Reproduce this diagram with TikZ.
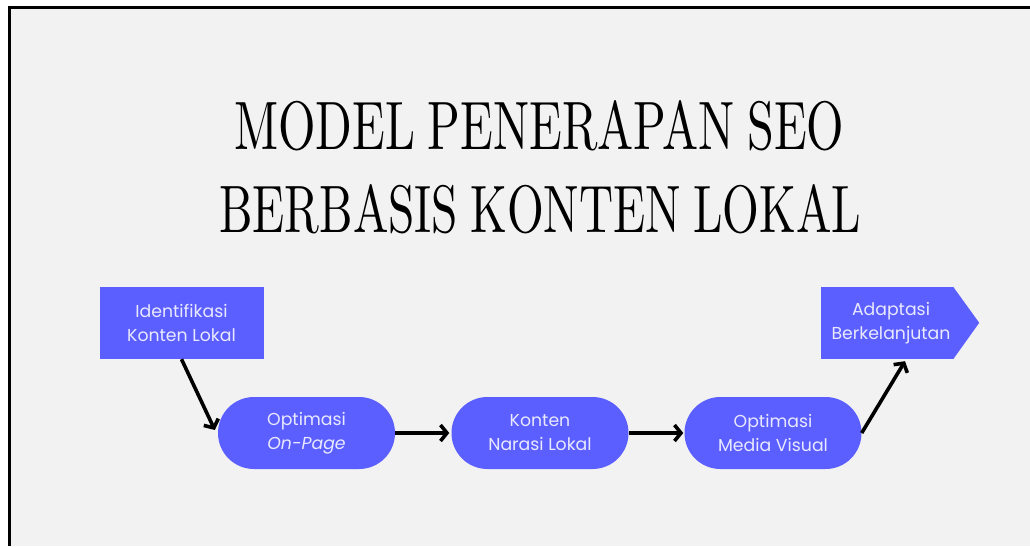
\documentclass[tikz,border=0pt]{standalone}
\usepackage{fontspec}
\setsansfont{Poppins}
\usetikzlibrary{arrows.meta,calc}
\definecolor{boxblue}{RGB}{92,95,255}
\definecolor{bggray}{RGB}{242,242,242}
\definecolor{boxtext}{RGB}{232,232,255}
\newcommand{\titlefmt}{\fontsize{10}{10}\selectfont\spaceskip=0.26em plus 0.1em}
\tikzset{
  flowbox/.style={fill=boxblue, text=boxtext, align=center, inner sep=0pt,
    font=\sffamily\fontsize{17.3}{24}\selectfont},
  rectbox/.style={flowbox, minimum width=164pt, minimum height=72pt},
  pillbox/.style={flowbox, minimum width=177pt, minimum height=72pt, rounded corners=35.9pt},
  flowarrow/.style={line width=3.6pt, -{Straight Barb[length=6.5pt,width=16pt,line width=3.6pt]}},
  titletext/.style={anchor=base west, inner sep=0pt, text=black}
}
\begin{document}
\begin{tikzpicture}[x=1pt,y=-1pt]
\useasboundingbox (0,0) rectangle (1030,546);
\fill[white] (0,0) rectangle (1030,546);
\fill[bggray] (9,7.5) rectangle (1030,546);
\draw[line width=2.6pt] (9.3,546) -- (9.3,7.3) -- (1030,7.3);

\node[titletext] (t1) at (234,149) {\resizebox{610pt}{49pt}{\titlefmt MODEL PENERAPAN SEO}};
\node[titletext] (t2) at (219,232) {\resizebox{642pt}{48pt}{\titlefmt BERBASIS KONTEN LOKAL}};

\node[rectbox] (idk) at (181.5,323) {Identifikasi\\Konten Lokal};
\node[pillbox] (op) at (306.5,433) {Optimasi\\\textit{On-Page}};
\node[pillbox] (kn) at (540,433) {Konten\\Narasi Lokal};
\node[pillbox] (mv) at (773,433) {Optimasi\\Media Visual};
\node[flowbox, minimum width=132pt, minimum height=72pt] (ad) at (887,323) {};
\fill[boxblue] (ad.north east) -- ++(26,36) -- (ad.south east) -- cycle;
\node[flowbox, fill=none] (adt) at (891,323) {Adaptasi\\Berkelanjutan};

\draw[flowarrow] (idk.south) -- ($(op.west)+(-3,-3)$);
\draw[flowarrow, shorten >=2pt] (op.east) -- (kn.west);
\draw[flowarrow, shorten >=1pt] (kn.east) -- (mv.west);
\draw[flowarrow] (mv.east) -- ($(ad.south)+(18,2)$);
\end{tikzpicture}
\end{document}
